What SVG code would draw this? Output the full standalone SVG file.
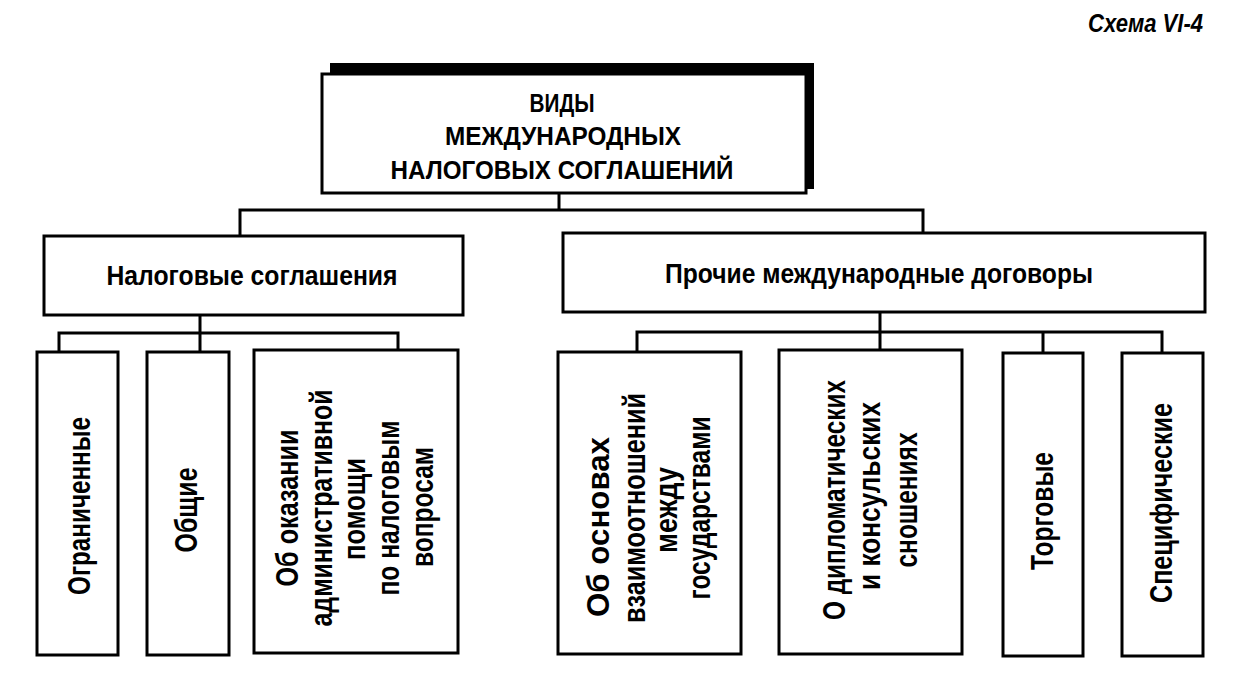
<svg xmlns="http://www.w3.org/2000/svg" width="1237" height="691" viewBox="0 0 1237 691">
<style>
.bg{fill:#fff}
.box{fill:#fff;stroke:#000;stroke-width:3}
.shadow{fill:#000}
.conn{fill:none;stroke:#000;stroke-width:3;stroke-linecap:square}
text{font-family:"Liberation Sans Narrow","Liberation Sans",Arial,sans-serif;font-weight:bold;fill:#000}
.t1{font-size:25px;text-anchor:middle}
.t2{font-size:28px;text-anchor:middle}
.t3{font-size:31px;text-anchor:middle}
.cap{font-size:25px;font-style:italic}
</style>
<rect class="bg" x="0" y="0" width="1237" height="691"/>
<text class="cap" x="1088" y="32" textLength="115" lengthAdjust="spacingAndGlyphs">Схема VI-4</text>

<g id="connectors">
<path class="conn" d="M559 193V210M240 210H923M240 210V236M923 210V233"/>
<path class="conn" d="M200 315V333M59 333H398M59 333V352M200 333V352M398 333V350"/>
<path class="conn" d="M880 312V332M637 332H1162M637 332V352M880 332V350M1043 332V353M1162 332V353"/>
</g>

<g id="root">
<rect class="shadow" x="330" y="63" width="484" height="126"/>
<rect class="box" x="322" y="74" width="484" height="119"/>
<text class="t1" x="562" y="112" textLength="65" lengthAdjust="spacingAndGlyphs">ВИДЫ</text>
<text class="t1" x="563" y="145" textLength="236" lengthAdjust="spacingAndGlyphs">МЕЖДУНАРОДНЫХ</text>
<text class="t1" x="562" y="179" textLength="343" lengthAdjust="spacingAndGlyphs">НАЛОГОВЫХ СОГЛАШЕНИЙ</text>
</g>

<g id="tax-agreements">
<rect class="box" x="44" y="236" width="419" height="79"/>
<text class="t2" x="252" y="285" textLength="291" lengthAdjust="spacingAndGlyphs">Налоговые соглашения</text>
</g>

<g id="other-treaties">
<rect class="box" x="563" y="233" width="642" height="79"/>
<text class="t2" x="879" y="283" textLength="428" lengthAdjust="spacingAndGlyphs">Прочие международные договоры</text>
</g>

<g id="limited">
<rect class="box" x="37" y="352" width="81" height="303"/>
<text class="t3" transform="translate(90,506) rotate(-90)" textLength="178" lengthAdjust="spacingAndGlyphs">Ограниченные</text>
</g>

<g id="general">
<rect class="box" x="147" y="352" width="82" height="303"/>
<text class="t3" transform="translate(197,510) rotate(-90)" textLength="85" lengthAdjust="spacingAndGlyphs">Общие</text>
</g>

<g id="admin-help">
<rect class="box" x="254" y="350" width="204" height="303"/>
<text class="t3" transform="translate(298,508) rotate(-90)" textLength="157" lengthAdjust="spacingAndGlyphs">Об оказании</text>
<text class="t3" transform="translate(332,508) rotate(-90)" textLength="237" lengthAdjust="spacingAndGlyphs">административной</text>
<text class="t3" transform="translate(365,509) rotate(-90)" textLength="102" lengthAdjust="spacingAndGlyphs">помощи</text>
<text class="t3" transform="translate(399,508) rotate(-90)" textLength="175" lengthAdjust="spacingAndGlyphs">по налоговым</text>
<text class="t3" transform="translate(433,507) rotate(-90)" textLength="120" lengthAdjust="spacingAndGlyphs">вопросам</text>
</g>

<g id="basics">
<rect class="box" x="558" y="352" width="183" height="302"/>
<text class="t3" transform="translate(609,527) rotate(-90)" textLength="180" lengthAdjust="spacingAndGlyphs">Об основах</text>
<text class="t3" transform="translate(645,508) rotate(-90)" textLength="230" lengthAdjust="spacingAndGlyphs">взаимоотношений</text>
<text class="t3" transform="translate(677,510) rotate(-90)" textLength="86" lengthAdjust="spacingAndGlyphs">между</text>
<text class="t3" transform="translate(710,508) rotate(-90)" textLength="183" lengthAdjust="spacingAndGlyphs">государствами</text>
</g>

<g id="diplomatic">
<rect class="box" x="779" y="350" width="183" height="304"/>
<text class="t3" transform="translate(845,500) rotate(-90)" textLength="240" lengthAdjust="spacingAndGlyphs">О дипломатических</text>
<text class="t3" transform="translate(880,496) rotate(-90)" textLength="188" lengthAdjust="spacingAndGlyphs">и консульских</text>
<text class="t3" transform="translate(917,500) rotate(-90)" textLength="135" lengthAdjust="spacingAndGlyphs">сношениях</text>
</g>

<g id="trade">
<rect class="box" x="1003" y="353" width="80" height="303"/>
<text class="t3" transform="translate(1053,511) rotate(-90)" textLength="118" lengthAdjust="spacingAndGlyphs">Торговые</text>
</g>

<g id="specific">
<rect class="box" x="1122" y="353" width="81" height="303"/>
<text class="t3" transform="translate(1172,503) rotate(-90)" textLength="200" lengthAdjust="spacingAndGlyphs">Специфические</text>
</g>
</svg>
